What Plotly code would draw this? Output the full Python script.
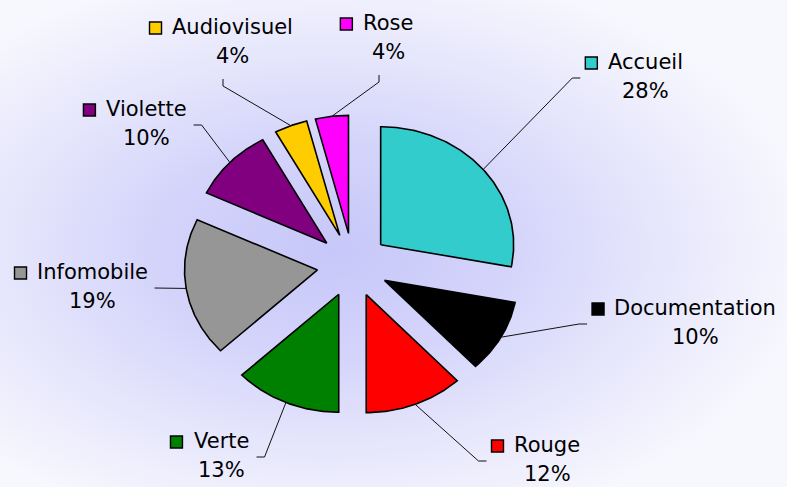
import numpy as np
import plotly.graph_objects as go

# ---------------- data ----------------
categories = ["Accueil", "Documentation", "Rouge", "Verte",
              "Infomobile", "Violette", "Audiovisuel", "Rose"]
shares = [28, 10, 12, 13, 19, 10, 4, 4]
slice_colors = ["#33CCCC", "#000000", "#FF0000", "#008000",
                "#969696", "#800080", "#FFCC00", "#FF00FF"]
pct_labels = [f"{v}%" for v in shares]

# ---------------- layout constants (pixel space) ----------------
W, H = 787, 487
CX, CY = 353, 265          # pie centre
RX, RY = 133, 118          # pie radii (chart is slightly stretched horizontally)
PULL = 0.27                # explode distance as a fraction of radius
FONT = "DejaVu Sans"
FS = 21
LINE_GAP = 29

# label block anchors: (centre x of the name text, centre y of first line)
label_anchor = {
    "Accueil": (645, 62),
    "Documentation": (695, 308),
    "Rouge": (547, 445),
    "Verte": (221, 441),
    "Infomobile": (92, 272),
    "Violette": (146, 109),
    "Audiovisuel": (232, 27),
    "Rose": (388, 23),
}

# approximate DejaVu Sans advance widths (em)
CW = {"A": .684, "D": .770, "I": .295, "R": .695, "V": .684,
      "a": .613, "b": .635, "c": .550, "d": .635, "e": .615, "f": .352,
      "g": .635, "i": .278, "l": .278, "m": .974, "n": .634, "o": .612,
      "r": .411, "s": .521, "t": .392, "u": .634, "v": .592}


def text_width(s):
    return sum(CW.get(ch, .6) for ch in s) * FS


def ell(theta_deg, ox, oy, k=1.0):
    t = np.radians(theta_deg)
    return ox + k * RX * np.sin(t), oy - k * RY * np.cos(t)


fig = go.Figure()

# ---------------- background radial glow ----------------
bx0, bx1, by0, by1 = -150, 810, -40, 540
fig.add_trace(go.Scatter(
    x=[bx0, bx1, bx1, bx0, bx0], y=[by0, by0, by1, by1, by0],
    mode="lines", line=dict(width=0), fill="toself",
    fillgradient=dict(type="radial",
                      colorscale=[[0, "#c7c7f9"], [0.35, "#d3d3fb"],
                                  [0.7, "#e7e7fc"], [1, "#f7f7fe"]]),
    hoverinfo="skip", showlegend=False))

# ---------------- slices ----------------
total = float(sum(shares))
start = 0.0
geo = []
for name, val, col in zip(categories, shares, slice_colors):
    a0 = start
    a1 = start + val / total * 360.0
    mid = (a0 + a1) / 2
    start = a1
    vx, vy = ell(mid, CX, CY, PULL)
    angs = np.linspace(a0, a1, max(8, int((a1 - a0) * 1.5)))
    ax_, ay_ = ell(angs, vx, vy)
    xs = np.concatenate([[vx], ax_, [vx]])
    ys = np.concatenate([[vy], ay_, [vy]])
    fig.add_trace(go.Scatter(
        x=xs, y=ys, mode="lines", fill="toself", fillcolor=col,
        line=dict(color="black", width=1.6), hoverinfo="skip",
        showlegend=False))
    geo.append((name, mid, vx, vy, col))

# ---------------- labels, keys, leader lines ----------------
for (name, mid, vx, vy, col), pct in zip(geo, pct_labels):
    nx, ny = label_anchor[name]
    w = text_width(name)
    name_left = nx - w / 2
    name_right = nx + w / 2
    key_x = name_left - 16

    fig.add_annotation(x=nx, y=ny, text=name, showarrow=False,
                       xref="x", yref="y", xanchor="center", yanchor="middle",
                       font=dict(family=FONT, size=FS, color="black"))
    fig.add_annotation(x=nx, y=ny + LINE_GAP, text=pct, showarrow=False,
                       xref="x", yref="y", xanchor="center", yanchor="middle",
                       font=dict(family=FONT, size=FS, color="black"))
    fig.add_trace(go.Scatter(
        x=[key_x], y=[ny + 1], mode="markers",
        marker=dict(symbol="square", size=12, color=col,
                    line=dict(color="black", width=1.4)),
        hoverinfo="skip", showlegend=False))

    sx, sy = ell(mid, vx, vy)
    if mid > 330:
        ex, ey = nx - 9, ny + 52
        elx, ely = ex, ey + 7
    elif mid < 180:
        ex, ey = key_x - 11, ny + 16
        elx, ely = ex - 8, ey
    else:
        ex, ey = name_right + 7, ny + 16
        elx, ely = ex + 8, ey
    fig.add_trace(go.Scatter(
        x=[sx, elx, ex], y=[sy, ely, ey], mode="lines",
        line=dict(color="#111111", width=1), hoverinfo="skip",
        showlegend=False))

fig.update_layout(
    width=W, height=H,
    margin=dict(l=0, r=0, t=0, b=0),
    paper_bgcolor="white", plot_bgcolor="rgba(0,0,0,0)",
    xaxis=dict(range=[0, W], visible=False, fixedrange=True),
    yaxis=dict(range=[H, 0], visible=False, fixedrange=True),
    showlegend=False,
)

fig.write_html("out.html", config={"displayModeBar": False})

# remove the browser's default page margin so the figure fills the window
with open("out.html", "r", encoding="utf-8") as fh:
    html = fh.read()
html = html.replace("<head>", "<head><style>html,body{margin:0;padding:0;overflow:hidden;}</style>", 1)
with open("out.html", "w", encoding="utf-8") as fh:
    fh.write(html)
